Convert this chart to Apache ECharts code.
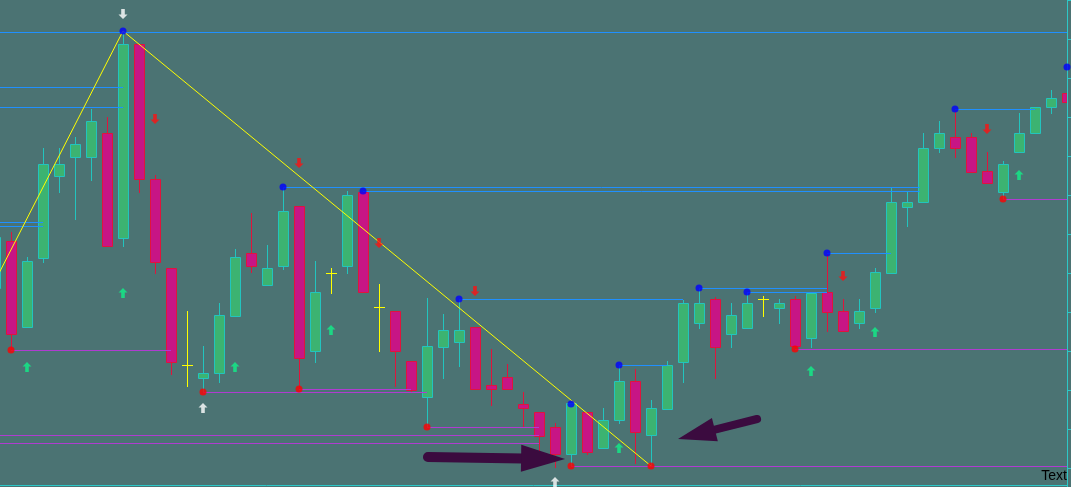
<!DOCTYPE html>
<html><head><meta charset="utf-8">
<script src="https://cdn.jsdelivr.net/npm/echarts@6.0.0/dist/echarts.min.js"></script>
<style>html,body{margin:0;padding:0;background:#4b7373;}#c{width:1071px;height:487px;}</style>
</head><body><div id="c"></div>
<script>
// ---- data (price units; candle index along x) ----
const firstIndex = -1;
// [open, close, low, high]
const ohlc = [
  [197,248,193,253],[244,151,135,253],[158,224,158,228],[227,321,223,337],[309,321,293,337],
  [328,341,266,348],[328,364,305,376],[352,239,239,368],[247,441,239,453],[441,306,293,441],
  [306,223,212,310],[217,123,111,217],[120,120,99,174],[107,112,93,139],[112,170,103,182],
  [169,228,169,236],[232,219,213,272],[200,217,200,240],[219,274,216,298],[279,127,96,279],
  [134,193,123,224],[212,212,192,217],[219,290,212,294],[293,193,193,294],[178,178,134,201],
  [174,134,99,174],[124,95,93,124],[88,139,58,187],[138,155,107,171],[143,155,119,186],
  [158,96,96,158],[100,96,80,136],[108,96,96,121],[81,77,58,93],[73,49,35,73],
  [58,31,18,62],[31,82,19,82],[73,33,31,73],[37,65,37,77],[65,104,62,120],
  [104,53,22,116],[50,77,19,85],[76,120,76,124],[123,182,103,185],[162,182,157,197],
  [186,138,107,188],[151,170,138,182],[157,182,157,193],[186,186,169,189],[177,182,162,186],
  [186,139,136,189],[147,192,138,192],[193,173,154,232],[174,154,154,186],[162,174,157,186],
  [177,213,173,217],[212,283,212,298],[278,283,259,294],[283,337,283,352],[337,352,333,364],
  [348,337,328,376],[348,313,313,352],[314,302,302,333],[293,321,286,324],[333,352,333,372],
  [352,378,352,378],[378,387,372,395],[392,383,368,418]
];
// resistance (blue) and support (purple) levels: [fromIndex, toIndex, price]
const blueLevels = [
  [-1,66,453],[-1,7,398],[-1,7,378],[-1,2,263],[-1,2,259],
  [17,56.8,298],[22,56.8,294],[28,42,186],[38,41,120],[43,51,197],[46,51,193],[51,55,232],[59,64,376]
];
const purpleLevels = [
  [0,10,135],[12,26,93],[18,25,96],[26,33,58],[-1,33,50],[-1,33,42],[35,66,19],[49,66,136],[62,66,286]
];
// fractal dots [index, price]
const swingHighs = [[7,454],[17,298],[22,294],[28,186],[35,81],[38,120],[43,197],[46,193],[51,232],[59,376],[66,418]];
const swingLows = [[0,135],[12,93],[18,96],[26,58],[35,19],[40,19],[49,136],[62,286]];
// signal arrows [index, price]
const buyArrows = [[1,118],[7,192],[14,118],[20,155],[38,37],[50,114],[54,153],[63,310]];
const sellArrows = [[9,366],[18,322],[23,242],[29,194],[52,209],[61,356]];
const whiteDownArrows = [[7,471]];
const whiteUpArrows = [[12,77],[34,3]];
// zigzag [index, price]
const zigzag = [[-1,204],[7,454],[40,19]];
// annotation arrows [fromIndex, fromPrice, toIndex, toPrice]
const bigArrows = [[26.06,28,34.63,26],[46.63,66,41.69,46]];

// ---- styles ----
const BG = '#4b7373';
const AXIS = '#2cc8c8';
const BULL_FILL = '#3cb371', BULL_LINE = '#22c4be';
const BEAR_FILL = '#c71585', BEAR_LINE = '#e0143c';
const DOJI = '#ffff00';
const BLUE = '#2090ff', PURPLE = '#b03cd0';
const bigArrowSizes = [{shaft:10, headLen:44, headW:27}, {shaft:8, headLen:38, headW:24}];
const UP_PATH = 'path://M5,0 L10,5 L7,5 L7,11 L3,11 L3,5 L0,5 Z';
const DOWN_PATH = 'path://M3,0 L7,0 L7,6 L10,6 L5,11 L0,6 L3,6 Z';

const candleData = ohlc.map((d, k) => [firstIndex + k, d[0], d[1], d[2], d[3]]);

function renderCandle(params, api) {
  const i = api.value(0), o = api.value(1), c = api.value(2), lo = api.value(3), hi = api.value(4);
  const cs = params.coordSys;
  const pO = api.coord([i, o]), pC = api.coord([i, c]), pL = api.coord([i, lo]), pH = api.coord([i, hi]);
  const x = Math.round(pO[0]);
  const cx = x + 0.5;
  const right = cs.x + cs.width;
  const children = [];
  if (o === c) {
    const y = Math.round(pO[1]) + 0.5;
    children.push({type:'line', shape:{x1:cx, y1:Math.round(pH[1]), x2:cx, y2:Math.round(pL[1])+1}, style:{stroke:DOJI, lineWidth:1}});
    children.push({type:'line', shape:{x1:x-5, y1:y, x2:Math.min(x+6, right), y2:y}, style:{stroke:DOJI, lineWidth:1}});
  } else {
    const bull = c > o;
    const line = bull ? BULL_LINE : BEAR_LINE, fill = bull ? BULL_FILL : BEAR_FILL;
    const top = Math.round(Math.min(pO[1], pC[1])) + 0.5;
    const bot = Math.round(Math.max(pO[1], pC[1])) + 0.5;
    children.push({type:'line', shape:{x1:cx, y1:Math.round(pH[1]), x2:cx, y2:Math.round(pL[1])+1}, style:{stroke:line, lineWidth:1}});
    const rx = x - 5 + 0.5;
    const rw = Math.min(10, right - rx);
    children.push({type:'rect', shape:{x:rx, y:top, width:rw, height:Math.max(bot - top, 1)}, style:{fill:fill, stroke:line, lineWidth:1}});
  }
  return {type:'group', children: children,
    clipPath:{type:'rect', shape:{x:cs.x, y:cs.y, width:cs.width, height:cs.height}}};
}

function levelRenderer(color) {
  return function (params, api) {
    const a = api.coord([api.value(0), api.value(2)]);
    const b = api.coord([api.value(1), api.value(2)]);
    const y = Math.round(a[1]) + 0.5;
    return {type:'line', shape:{x1:a[0], y1:y, x2:b[0], y2:y}, style:{stroke:color, lineWidth:1}};
  };
}

function renderBigArrow(params, api) {
  const s = bigArrowSizes[params.dataIndex];
  const a = api.coord([api.value(0), api.value(1)]);
  const b = api.coord([api.value(2), api.value(3)]);
  const dx = b[0] - a[0], dy = b[1] - a[1];
  const len = Math.sqrt(dx*dx + dy*dy);
  const ux = dx/len, uy = dy/len, px = -uy, py = ux;
  const bx = b[0] - ux*s.headLen, by = b[1] - uy*s.headLen;
  const col = '#3b0b3f';
  return {type:'group', children:[
    {type:'line', shape:{x1:a[0], y1:a[1], x2:bx+ux*2, y2:by+uy*2}, style:{stroke:col, lineWidth:s.shaft, lineCap:'round'}},
    {type:'polygon', shape:{points:[[b[0],b[1]],[bx+px*s.headW/2, by+py*s.headW/2],[bx-px*s.headW/2, by-py*s.headW/2]]}, style:{fill:col}}
  ]};
}

const chart = echarts.init(document.getElementById('c'), null, {renderer:'canvas'});
chart.setOption({
  animation: false,
  backgroundColor: BG,
  grid: {left:0, right:4, top:0, bottom:-20, outerBoundsMode:'none', containLabel:false},
  xAxis: {type:'value', min:-0.6875, max:66,
    axisLine:{show:true, onZero:true, lineStyle:{color:AXIS, width:1}},
    axisTick:{show:false}, axisLabel:{show:false}, splitLine:{show:false}},
  yAxis: {type:'value', position:'right', min:-22, max:485, interval:39,
    axisLine:{show:true, onZero:false, lineStyle:{color:AXIS, width:1}},
    axisTick:{show:true, inside:false, length:4, lineStyle:{color:AXIS}},
    axisLabel:{show:false}, splitLine:{show:false}},
  series: [
    {type:'custom', name:'candles', renderItem:renderCandle, data:candleData, encode:{x:0, y:[1,2,3,4]}, clip:true, z:2},
    {type:'custom', name:'resistance', renderItem:levelRenderer(BLUE), data:blueLevels, encode:{x:[0,1], y:2}, z:3},
    {type:'custom', name:'support', renderItem:levelRenderer(PURPLE), data:purpleLevels, encode:{x:[0,1], y:2}, z:3},
    {type:'line', name:'zigzag', data:zigzag, symbol:'none', lineStyle:{color:'#ffff00', width:1}, z:4, clip:true},
    {type:'scatter', name:'highs', data:swingHighs, symbol:'circle', symbolSize:7, itemStyle:{color:'#0000ff'}, z:5},
    {type:'scatter', name:'lows', data:swingLows, symbol:'circle', symbolSize:7, itemStyle:{color:'#ff0000'}, z:5},
    {type:'scatter', name:'buy', data:buyArrows, symbol:UP_PATH, symbolSize:[9,10], itemStyle:{color:'#10f088'}, z:5},
    {type:'scatter', name:'sell', data:sellArrows, symbol:DOWN_PATH, symbolSize:[9,10], itemStyle:{color:'#ff1010'}, z:5},
    {type:'scatter', name:'whiteDown', data:whiteDownArrows, symbol:DOWN_PATH, symbolSize:[9,10], itemStyle:{color:'#ffffff'}, z:5},
    {type:'scatter', name:'whiteUp', data:whiteUpArrows, symbol:UP_PATH, symbolSize:[9,10], itemStyle:{color:'#ffffff'}, z:5},
    {type:'custom', name:'annotations', renderItem:renderBigArrow, data:bigArrows, encode:{x:[0,2], y:[1,3]}, z:6}
  ],
  graphic: [
    {type:'text', right:4, top:469, z:10, style:{text:'Text', fill:'#000000', font:'14px "Liberation Sans", Arial, sans-serif'}}
  ]
});
</script></body></html>
